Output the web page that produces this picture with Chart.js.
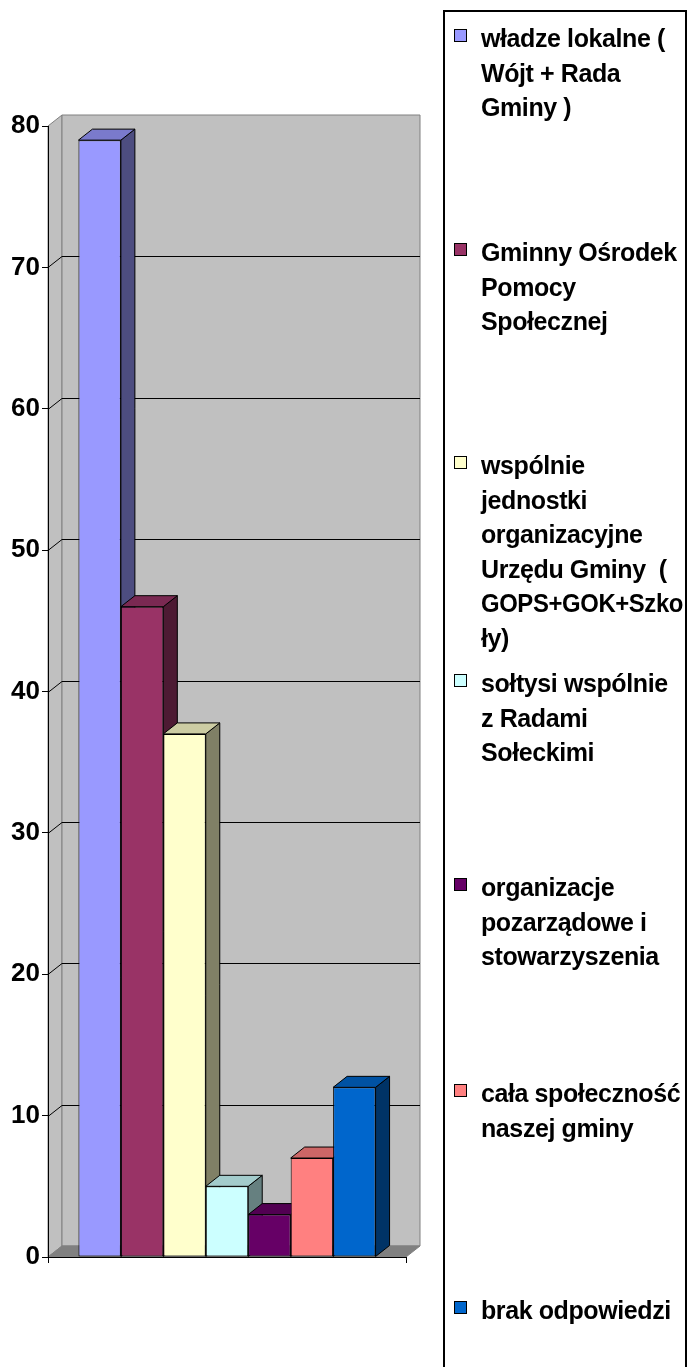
<!DOCTYPE html>
<html>
<head>
<meta charset="utf-8">
<title>Kto powinien inicjować działania</title>
<script src="https://cdn.jsdelivr.net/npm/chart.js@4.4.0/dist/chart.umd.min.js"></script>
<style>
  html, body { margin: 0; padding: 0; background: #fff; }
  #wrap { width: 688px; height: 1367px; }
</style>
</head>
<body>
<div id="wrap"><canvas id="chart" width="688" height="1367"></canvas></div>
<script>
// series shown in the legend (already split into wrapped lines)
const seriesNames = [
  ['władze lokalne (', 'Wójt + Rada', 'Gminy )'],
  ['Gminny Ośrodek', 'Pomocy', 'Społecznej'],
  ['wspólnie', 'jednostki', 'organizacyjne', 'Urzędu Gminy  (', 'GOPS+GOK+Szko', 'ły)'],
  ['sołtysi wspólnie', 'z Radami', 'Sołeckimi'],
  ['organizacje', 'pozarządowe i', 'stowarzyszenia'],
  ['cała społeczność', 'naszej gminy'],
  ['brak odpowiedzi']
];
const seriesValues = [79, 46, 37, 5, 3, 7, 12];
const seriesColors = ['#9999FF', '#993366', '#FFFFCC', '#CCFFFF', '#660066', '#FF8080', '#0066CC'];
const categories = [''];
const yTicks = [0, 10, 20, 30, 40, 50, 60, 70, 80];

// depth of the fake 3D box
const DX = 14, DY = -11;
const FONT = '"Liberation Sans", Arial, sans-serif';
// baseline of the first line of every legend entry
const legendBaselines = [47, 261, 474, 692, 896, 1102, 1319];

// darken a hex colour by factor k
function shade(hex, k) {
  const n = parseInt(hex.slice(1), 16);
  const r = Math.round(((n >> 16) & 255) * k);
  const g = Math.round(((n >> 8) & 255) * k);
  const b = Math.round((n & 255) * k);
  return 'rgb(' + r + ',' + g + ',' + b + ')';
}

function poly(ctx, pts, fill, stroke) {
  ctx.beginPath();
  ctx.moveTo(pts[0][0], pts[0][1]);
  for (let i = 1; i < pts.length; i++) ctx.lineTo(pts[i][0], pts[i][1]);
  ctx.closePath();
  if (fill) { ctx.fillStyle = fill; ctx.fill(); }
  if (stroke) { ctx.strokeStyle = stroke; ctx.lineWidth = 1; ctx.stroke(); }
}

// side wall, back wall, floor and gridlines
const wallsPlugin = {
  id: 'walls',
  beforeDraw(chart) {
    const ctx = chart.ctx;
    const { left, right, top, bottom } = chart.chartArea;
    const y = chart.scales.y;
    ctx.save();
    poly(ctx, [[left, top], [left + DX, top + DY], [left + DX, bottom + DY], [left, bottom]], '#C0C0C0', '#808080');
    poly(ctx, [[left + DX, top + DY], [right + DX, top + DY], [right + DX, bottom + DY], [left + DX, bottom + DY]], '#C0C0C0', '#808080');
    poly(ctx, [[left, bottom], [left + DX, bottom + DY], [right + DX, bottom + DY], [right, bottom]], '#808080', '#808080');
    ctx.strokeStyle = '#000';
    ctx.lineWidth = 1;
    yTicks.forEach(v => {
      if (v === 0 || v === yTicks[yTicks.length - 1]) return;
      const py = Math.round(y.getPixelForValue(v)) + 0.5;
      ctx.beginPath();
      ctx.moveTo(left, py);
      ctx.lineTo(left + DX, py + DY);
      ctx.lineTo(right + DX, py + DY);
      ctx.stroke();
    });
    ctx.restore();
  }
};

// right side and top faces of each bar, drawn left to right before the fronts
const depthPlugin = {
  id: 'depth',
  beforeDatasetsDraw(chart) {
    const ctx = chart.ctx;
    ctx.save();
    chart.data.datasets.forEach((ds, i) => {
      const bar = chart.getDatasetMeta(i).data[0];
      if (!bar) return;
      const x0 = bar.x - bar.width / 2, x1 = bar.x + bar.width / 2;
      const yt = bar.y, yb = bar.base;
      const c = seriesColors[i];
      poly(ctx, [[x1, yt], [x1 + DX, yt + DY], [x1 + DX, yb + DY], [x1, yb]], shade(c, 0.5), '#000');
      poly(ctx, [[x0, yt], [x0 + DX, yt + DY], [x1 + DX, yt + DY], [x1, yt]], shade(c, 0.8), '#000');
    });
    ctx.restore();
  }
};

// boxed legend on the right with wrapped labels
const legendPlugin = {
  id: 'sideLegend',
  afterDraw(chart) {
    const ctx = chart.ctx;
    const boxX = 444, boxY = 11, boxW = 242;
    const textX = 481, swX = 454, sw = 13, lineH = 34.5;
    const maxW = boxX + boxW - textX - 3;
    ctx.save();
    ctx.strokeStyle = '#000';
    ctx.lineWidth = 2;
    ctx.strokeRect(boxX, boxY, boxW, 1500);
    ctx.font = 'bold 25px ' + FONT;
    ctx.letterSpacing = '-0.4px';
    ctx.textBaseline = 'alphabetic';
    seriesNames.forEach((lines, i) => {
      const base = legendBaselines[i];
      ctx.fillStyle = seriesColors[i];
      ctx.fillRect(swX, base - 18, sw, sw);
      ctx.strokeStyle = '#000';
      ctx.lineWidth = 1;
      ctx.strokeRect(swX + 0.5, base - 17.5, sw - 1, sw - 1);
      ctx.fillStyle = '#000';
      lines.forEach((t, j) => ctx.fillText(t, textX, base + j * lineH, maxW));
    });
    ctx.restore();
  }
};

new Chart(document.getElementById('chart'), {
  type: 'bar',
  data: {
    labels: categories,
    datasets: seriesNames.map((name, i) => ({
      label: name.join(' '),
      data: [seriesValues[i]],
      backgroundColor: seriesColors[i],
      borderColor: '#000',
      borderWidth: 1,
      borderSkipped: false,
      categoryPercentage: 0.83,
      barPercentage: 1
    }))
  },
  options: {
    responsive: false,
    animation: false,
    devicePixelRatio: 1,
    layout: { padding: { top: 126, right: 282, bottom: 100, left: 0 } },
    plugins: { legend: { display: false }, tooltip: { enabled: false } },
    scales: {
      x: {
        grid: { display: true, drawOnChartArea: false, offset: true, tickLength: 6, color: '#000' },
        border: { display: true, color: '#000', width: 1 },
        ticks: { display: false },
        afterFit: s => { s.height = 10; }
      },
      y: {
        min: 0,
        max: 80,
        ticks: {
          stepSize: 10,
          color: '#000',
          padding: 2,
          font: { family: FONT, size: 26, weight: 'bold' }
        },
        grid: { display: true, drawOnChartArea: false, tickLength: 6, color: '#000' },
        border: { display: true, color: '#000', width: 1 },
        afterFit: s => { s.width = 48; }
      }
    }
  },
  plugins: [wallsPlugin, depthPlugin, legendPlugin]
});
</script>
</body>
</html>
